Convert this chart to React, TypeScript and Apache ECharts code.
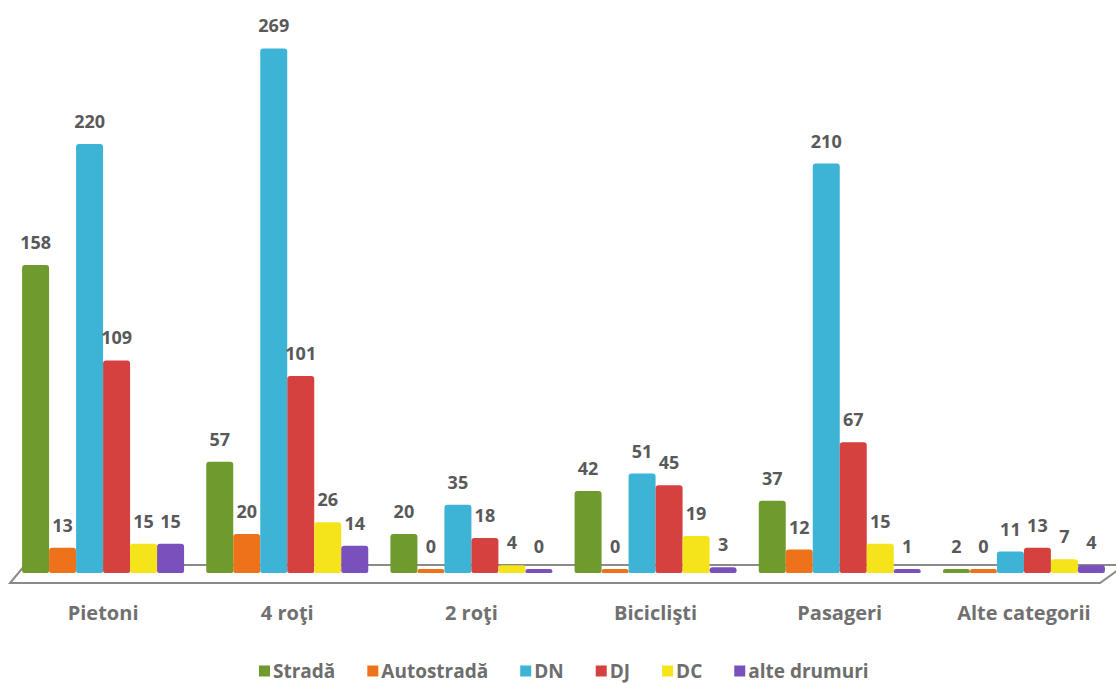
import React, { useEffect, useRef } from "react";
import * as echarts from "echarts";

const categories = ["Pietoni", "4 roţi", "2 roţi", "Biciclişti", "Pasageri", "Alte categorii"];
const seriesNames = ["Stradă", "Autostradă", "DN", "DJ", "DC", "alte drumuri"];
const strada = [158, 57, 20, 42, 37, 2];
const autostrada = [13, 20, 0, 0, 12, 0];
const dn = [220, 269, 35, 51, 210, 11];
const dj = [109, 101, 18, 45, 67, 13];
const dc = [15, 26, 4, 19, 15, 7];
const alteDrumuri = [15, 14, 0, 3, 1, 4];
const seriesValues = [strada, autostrada, dn, dj, dc, alteDrumuri];
const colors = ["#6e9a2e", "#ee7219", "#3db3d6", "#d4413f", "#f4e419", "#7a50bd"];

const FONT = "'Open Sans', 'Noto Sans', sans-serif";

export default function App() {
  const ref = useRef<HTMLDivElement>(null);
  useEffect(() => {
    if (!ref.current) return;
    const chart = echarts.init(ref.current, undefined, { renderer: "svg" });
    chart.setOption({
      animation: false,
      backgroundColor: "#ffffff",
      grid: { left: 11, width: 1121, top: 27, bottom: 111, containLabel: false },
      legend: {
        left: 259,
        top: 661,
        padding: 0,
        itemWidth: 11,
        itemHeight: 11,
        itemGap: 32,
        icon: "rect",
        textStyle: { fontFamily: FONT, fontWeight: "bold", fontSize: 19, lineHeight: 20, color: "#6d6d6d", padding: [0, 0, 0, -2] },
        data: seriesNames,
      },
      xAxis: {
        type: "category",
        data: categories,
        axisLine: { show: false },
        axisTick: { show: false },
        axisLabel: {
          margin: 29,
          fontFamily: FONT,
          fontWeight: "bold",
          fontSize: 20,
          color: "#707070",
        },
      },
      yAxis: {
        type: "value",
        min: 0,
        max: 280,
        show: false,
        splitLine: { show: false },
      },
      graphic: [
        {
          type: "polygon",
          z: 0,
          shape: { points: [[25, 565], [1125, 565], [1100, 583], [10, 583]] },
          style: { fill: "#ffffff", stroke: "#8a8a8a", lineWidth: 2 },
        },
      ],
      series: seriesNames.map((name, i) => ({
        name,
        type: "bar",
        data: seriesValues[i],
        barWidth: 27,
        barGap: "0%",
        barMinHeight: 4,
        itemStyle: { color: colors[i], borderRadius: [3, 3, 2, 2] },
        label: {
          show: true,
          position: "top",
          distance: 14,
          fontFamily: FONT,
          fontWeight: "bold",
          fontSize: 18,
          color: "#595959",
        },
      })),
    });
    return () => chart.dispose();
  }, []);
  return <div ref={ref} style={{ width: 1116, height: 684, position: "absolute", left: 0, top: 0 }} />;
}
